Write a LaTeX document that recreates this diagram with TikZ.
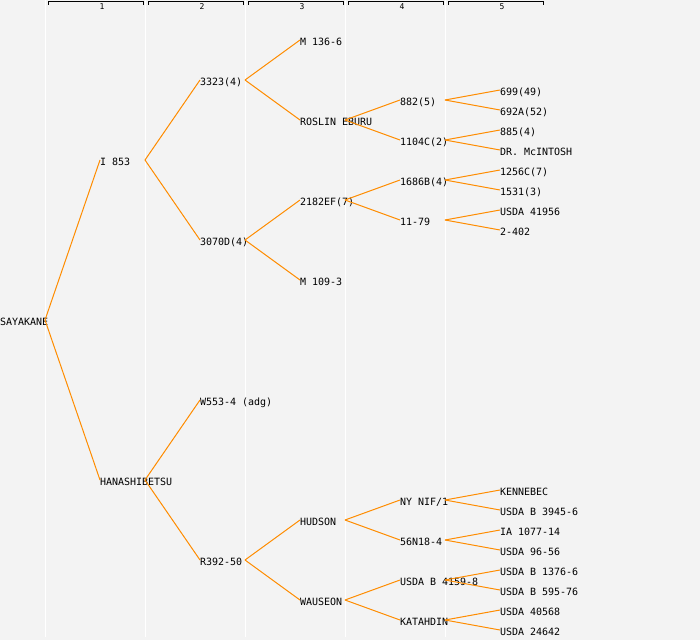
\documentclass[tikz,border=0pt]{standalone}
\usepackage{fontspec}
\setmonofont{DejaVu Sans Mono}
\begin{document}
\begin{tikzpicture}[x=1pt,y=-1pt,
  lbl/.style={anchor=west,inner sep=0pt,outer sep=0pt,text height=7.3pt,text depth=0pt,
    font=\fontsize{10}{10}\selectfont\ttfamily,text=black},
  hdr/.style={inner sep=0pt,font=\fontsize{8}{8}\selectfont\ttfamily},
  conn/.style={draw=linec,line width=1pt},
  sep/.style={draw=white,line width=1pt},
  brk/.style={draw=black,line width=1pt}]
\definecolor{bgc}{HTML}{F3F3F3}
\definecolor{linec}{HTML}{FF8C00}
\useasboundingbox (0,0) rectangle (700,640);
\fill[bgc] (0,0) rectangle (700,640);
% column separators and header brackets
\foreach \i in {1,...,5}{
  \draw[sep] ({100*\i-55},0) -- ({100*\i-55},637);
  \draw[brk] ({100*\i-52},4.5) -- ({100*\i-52},1.5) -- ({100*\i+43},1.5) -- ({100*\i+43},4.5);
  \node[hdr] (h\i) at ({100*\i+2},6.5) {\i};
}
% generation 0
\node[lbl] (sayakane) at (0,322) {SAYAKANE};
% generation 1
\node[lbl] (i853) at (100,162) {I 853};
\node[lbl] (hana) at (100,482) {HANASHIBETSU};
% generation 2
\node[lbl] (a3323) at (200,82) {3323(4)};
\node[lbl] (a3070) at (200,242) {3070D(4)};
\node[lbl] (w553) at (200,402) {W553-4 (adg)};
\node[lbl] (r392) at (200,562) {R392-50};
% generation 3
\node[lbl] (m136) at (300,42) {M 136-6};
\node[lbl] (roslin) at (300,122) {ROSLIN EBURU};
\node[lbl] (ef2182) at (300,202) {2182EF(7)};
\node[lbl] (m109) at (300,282) {M 109-3};
\node[lbl] (hudson) at (300,522) {HUDSON};
\node[lbl] (wauseon) at (300,602) {WAUSEON};
% generation 4
\node[lbl] (b882) at (400,102) {882(5)};
\node[lbl] (c1104) at (400,142) {1104C(2)};
\node[lbl] (b1686) at (400,182) {1686B(4)};
\node[lbl] (d1179) at (400,222) {11-79};
\node[lbl] (nynif) at (400,502) {NY NIF/1};
\node[lbl] (n56) at (400,542) {56N18-4};
\node[lbl] (u4159) at (400,582) {USDA B 4159-8};
\node[lbl] (katahdin) at (400,622) {KATAHDIN};
% generation 5
\node[lbl] (e699) at (500,92) {699(49)};
\node[lbl] (e692) at (500,112) {692A(52)};
\node[lbl] (e885) at (500,132) {885(4)};
\node[lbl] (mcint) at (500,152) {DR. McINTOSH};
\node[lbl] (e1256) at (500,172) {1256C(7)};
\node[lbl] (e1531) at (500,192) {1531(3)};
\node[lbl] (u41956) at (500,212) {USDA 41956};
\node[lbl] (e2402) at (500,232) {2-402};
\node[lbl] (kenn) at (500,492) {KENNEBEC};
\node[lbl] (u3945) at (500,512) {USDA B 3945-6};
\node[lbl] (ia1077) at (500,532) {IA 1077-14};
\node[lbl] (u9656) at (500,552) {USDA 96-56};
\node[lbl] (u1376) at (500,572) {USDA B 1376-6};
\node[lbl] (u595) at (500,592) {USDA B 595-76};
\node[lbl] (u40568) at (500,612) {USDA 40568};
\node[lbl] (u24642) at (500,632) {USDA 24642};
% connectors
\foreach \p/\c in {sayakane/i853,sayakane/hana,
  i853/a3323,i853/a3070,hana/w553,hana/r392,
  a3323/m136,a3323/roslin,a3070/ef2182,a3070/m109,r392/hudson,r392/wauseon,
  roslin/b882,roslin/c1104,ef2182/b1686,ef2182/d1179,
  hudson/nynif,hudson/n56,wauseon/u4159,wauseon/katahdin,
  b882/e699,b882/e692,c1104/e885,c1104/mcint,b1686/e1256,b1686/e1531,d1179/u41956,d1179/e2402,
  nynif/kenn,nynif/u3945,n56/ia1077,n56/u9656,u4159/u1376,u4159/u595,katahdin/u40568,katahdin/u24642}{
  \draw[conn] ([xshift=45pt,yshift=2pt]\p.west) -- ([yshift=2pt]\c.west);
}
\end{tikzpicture}
\end{document}
